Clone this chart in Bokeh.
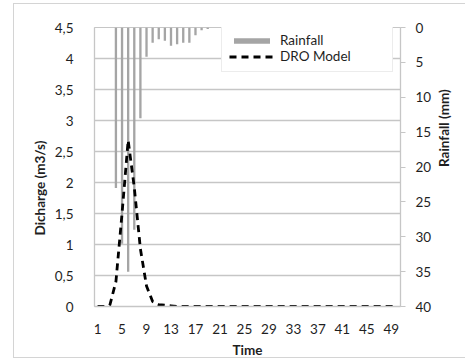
import math
from bokeh.plotting import figure
from bokeh.models import (Range1d, LinearAxis, FixedTicker, Legend, LegendItem,
                          CustomJSTickFormatter, Title, InlineStyleSheet)
from bokeh.embed import file_html
from bokeh.resources import INLINE

time = list(range(1, 51))
dro_model = [0, 0, 0.02, 0.4, 1.5, 2.68, 1.92, 0.93, 0.33, 0.08, 0.03, 0.02, 0.01] + [0] * 37
rain_time = [4, 5, 6, 7, 8, 9, 10, 11, 12, 13, 14, 15, 16, 17, 18, 19, 33, 34, 35, 36]
rainfall = [23, 31, 35, 29, 13, 4.2, 2.2, 1.7, 1.9, 2.6, 2.4, 2.2, 2.2, 1.1, 0.4, 0.2, 0.2, 0.2, 0.2, 0.2]
left_ticks = [0, 0.5, 1, 1.5, 2, 2.5, 3, 3.5, 4, 4.5]
right_ticks = [0, 5, 10, 15, 20, 25, 30, 35, 40]
x_ticks = [1, 5, 9, 13, 17, 21, 25, 29, 33, 37, 41, 45, 49]

FONT = "Lato"
TXT = "#1f1f1f"
GRID = "#c6c6c6"

p = figure(width=465, height=361, output_backend="svg", toolbar_location=None,
           x_range=Range1d(0.5, 50.5), y_range=Range1d(0, 4.5),
           min_border_left=94, min_border_right=65, min_border_top=27, min_border_bottom=55)
# light chart-area frame, as in the original
p.stylesheets = [InlineStyleSheet(css=":host::after { content: ''; position: absolute; left: 13px; "
                                      "top: 3px; width: 470px; height: 353px; "
                                      "border: 1px solid #d4d4d4; pointer-events: none; }")]
p.extra_y_ranges = {"rain": Range1d(40, 0)}
p.outline_line_color = GRID
p.xgrid.grid_line_color = None
p.ygrid.grid_line_color = GRID
p.ygrid.grid_line_width = 1.3
p.yaxis.ticker = FixedTicker(ticks=left_ticks)
p.yaxis.formatter = CustomJSTickFormatter(code="return tick.toString().replace('.', ',');")
p.xaxis.ticker = FixedTicker(ticks=x_ticks)

for ax in (p.xaxis[0], p.yaxis[0]):
    ax.major_tick_out = 0
    ax.major_tick_in = 0
    ax.minor_tick_out = 0
    ax.minor_tick_in = 0
    ax.axis_line_color = GRID
    ax.axis_line_width = 1.3
    ax.major_label_text_font = FONT
    ax.major_label_text_font_size = "13.5px"
    ax.major_label_text_color = TXT
    ax.axis_label_text_font = FONT
    ax.axis_label_text_font_style = "bold"
    ax.axis_label_text_font_size = "13.5px"
    ax.axis_label_text_color = TXT

p.xaxis.axis_label = "Time"
p.xaxis.major_label_standoff = 17
p.xaxis.axis_label_standoff = 5
p.yaxis.major_label_standoff = 21

ra = LinearAxis(y_range_name="rain", ticker=FixedTicker(ticks=right_ticks))
ra.major_tick_out = 5
ra.major_tick_in = 0
ra.minor_tick_out = 0
ra.minor_tick_in = 0
ra.major_tick_line_color = GRID
ra.axis_line_color = GRID
ra.axis_line_width = 1.3
ra.major_label_text_font = FONT
ra.major_label_text_font_size = "13.5px"
ra.major_label_text_color = TXT
ra.major_label_standoff = 10
ra.axis_label_text_font = FONT
ra.axis_label_text_font_style = "bold"
ra.axis_label_text_font_size = "13.5px"
ra.axis_label_text_color = TXT
ra.axis_label_standoff = 10
ra.axis_label = "Rainfall (mm)"
if "axis_label_orientation" in ra.properties():
    ra.axis_label_orientation = math.pi / 2
p.add_layout(ra, "right")

# left title, shifted down like the original
p.add_layout(Title(text="Dicharge (m3/s)", align="left", offset=71, standoff=8,
                   text_font=FONT, text_font_style="bold", text_font_size="13.5px",
                   text_color=TXT), "left")

bars = p.vbar(x=rain_time, top=0, bottom=rainfall, width=0.38, y_range_name="rain",
              fill_color="#a5a5a5", line_color=None)
line = p.line(time, dro_model, line_color="black", line_width=2.8, line_dash="7 5")

legend = Legend(items=[LegendItem(label="Rainfall", renderers=[bars]),
                       LegendItem(label="DRO Model", renderers=[line])],
                location=(127, 234))
legend.border_line_color = "#d9d9d9"
legend.border_line_width = 1.3
legend.background_fill_color = "white"
legend.background_fill_alpha = 1
legend.label_text_font = FONT
legend.label_text_font_size = "13.5px"
legend.label_text_color = TXT
legend.glyph_width = 45
legend.glyph_height = 7
legend.label_height = 12
legend.label_width = 105
legend.label_standoff = 6
legend.padding = 7
legend.spacing = 0
legend.margin = 0
p.add_layout(legend, "center")

open("out.html", "w").write(file_html(p, INLINE))
